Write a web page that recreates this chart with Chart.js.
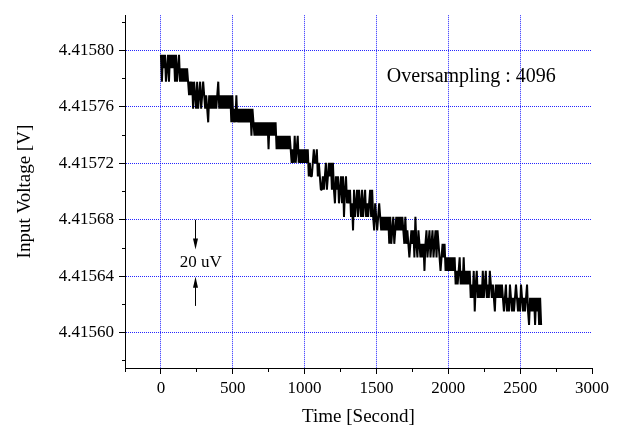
<!DOCTYPE html>
<html>
<head>
<meta charset="utf-8">
<style>
  html, body { margin: 0; padding: 0; background: #fff; }
  #wrap { width: 618px; height: 428px; }
</style>
</head>
<body>
<div id="wrap"><canvas id="chart" width="618" height="428"></canvas></div>
<script src="https://cdn.jsdelivr.net/npm/chart.js@4.4.1/dist/chart.umd.min.js"></script>
<script>
// quantisation levels of the converter output [V]
const levels = [
    4.4157970, 4.4157874, 4.4157779, 4.4157683, 4.4157587, 4.4157491, 4.4157396,
    4.4157300, 4.4157204, 4.4157108, 4.4157013, 4.4156917, 4.4156821, 4.4156725,
    4.4156630, 4.4156534, 4.4156438, 4.4156342, 4.4156247, 4.4156151, 4.4156055
];

// seconds between readings
const sampleStep = 7;

// level index of each reading (one reading per sampleStep)
const readings = [
    0, 2, 0, 1, 0, 2, 1, 0, 2, 0,   1, 0, 1, 0, 2, 0, 2, 1, 0, 2,
    1, 2, 1, 2, 1, 2, 1, 2, 3, 2,   3, 2, 4, 2, 3, 4, 2, 4, 3, 2,
    4, 3, 2, 3, 4, 3, 4, 5, 3, 4,   3, 4, 3, 4, 3, 4, 3, 2, 4, 3,
    4, 3, 4, 3, 4, 3, 4, 3, 4, 3,   5, 3, 5, 4, 5, 3, 5, 4, 5, 4,
    5, 4, 5, 4, 5, 4, 5, 4, 5, 4,   6, 4, 5, 6, 5, 6, 5, 6, 5, 6,
    5, 6, 5, 6, 5, 6, 5, 7, 5, 6,   5, 6, 5, 6, 5, 7, 6, 7, 6, 7,
    6, 7, 6, 7, 6, 7, 6, 7, 6, 7,   8, 7, 8, 6, 8, 7, 6, 8, 7, 8,
    7, 8, 7, 8, 7, 8, 7, 9, 8, 9,   9, 8, 7, 8, 8, 7, 9, 8, 9, 10,
    10, 9, 10, 9, 8, 10, 9, 8, 9, 8,   10, 8, 10, 11, 9, 10, 9, 11, 10, 9,
    11, 9, 12, 10, 9, 11, 10, 11, 10, 12,   11, 13, 10, 12, 11, 10, 12, 10, 11, 12,
    10, 12, 11, 10, 12, 11, 12, 11, 10, 12,   10, 12, 13, 11, 12, 13, 12, 11, 12, 13,
    12, 13, 12, 13, 12, 13, 12, 14, 12, 14,   13, 12, 14, 13, 12, 13, 12, 13, 12, 13,
    12, 13, 14, 12, 14, 13, 14, 15, 14, 13,   14, 13, 15, 12, 14, 15, 13, 14, 15, 14,
    15, 14, 16, 14, 13, 15, 14, 13, 15, 14,   13, 15, 14, 13, 15, 13, 14, 15, 16, 15,
    14, 15, 14, 16, 15, 16, 15, 16, 15, 16,   15, 16, 15, 17, 16, 17, 16, 15, 17, 16,
    17, 15, 17, 16, 17, 16, 17, 16, 18, 17,   18, 16, 19, 17, 16, 18, 17, 18, 17, 18,
    16, 18, 17, 16, 18, 17, 18, 16, 17, 18,   17, 18, 19, 17, 18, 17, 18, 17, 18, 17,
    18, 19, 18, 17, 19, 18, 19, 17, 18, 19,   18, 19, 18, 17, 18, 19, 18, 19, 17, 18,
    19, 18, 19, 18, 17, 19, 20, 18, 19, 18,   19, 18, 20, 18, 19, 18, 20, 18, 20
];

const xMajorTicks = [0, 500, 1000, 1500, 2000, 2500, 3000];
const xMinorTicks = [-250, 250, 750, 1250, 1750, 2250, 2750];
const yMajorTicks = [4.41560, 4.41564, 4.41568, 4.41572, 4.41576, 4.41580];
const yMinorTicks = [4.41558, 4.41562, 4.41566, 4.41570, 4.41574, 4.41578, 4.41582];

const serif = '"Liberation Serif", "Times New Roman", serif';

function tickList(major, minor) {
    return major.map(v => ({ value: v, minor: false }))
        .concat(minor.map(v => ({ value: v, minor: true })))
        .sort((a, b) => a.value - b.value);
}

const points = readings.map((k, i) => ({ x: i * sampleStep, y: levels[k] }));

// text and arrows drawn on top of the data
const notes = {
    id: 'notes',
    afterDatasetsDraw(chart) {
        const { ctx, scales: { x, y } } = chart;
        ctx.save();
        ctx.fillStyle = '#000';
        ctx.strokeStyle = '#000';
        ctx.lineWidth = 1;
        ctx.textAlign = 'center';
        ctx.textBaseline = 'middle';
        ctx.font = '20px ' + serif;
        ctx.fillText('Oversampling : 4096', x.getPixelForValue(2160), y.getPixelForValue(4.4157812));
        ctx.font = '17px ' + serif;
        ctx.fillText('20 uV', x.getPixelForValue(278), y.getPixelForValue(4.4156495));

        const ax = Math.round(x.getPixelForValue(240)) + 0.5;
        const arrow = (from, to) => {
            const y1 = y.getPixelForValue(from);
            const y2 = y.getPixelForValue(to);
            const dir = y2 > y1 ? 1 : -1;
            ctx.beginPath();
            ctx.moveTo(ax, y1);
            ctx.lineTo(ax, y2 - dir * 8);
            ctx.stroke();
            ctx.beginPath();
            ctx.moveTo(ax, y2);
            ctx.lineTo(ax - 2.5, y2 - dir * 11);
            ctx.lineTo(ax + 2.5, y2 - dir * 11);
            ctx.closePath();
            ctx.fill();
        };
        arrow(4.41568, 4.415659);
        arrow(4.415619, 4.4156397);
        ctx.restore();
    }
};

new Chart(document.getElementById('chart'), {
    type: 'line',
    data: {
        datasets: [{
            data: points,
            borderColor: '#000',
            borderWidth: 2,
            borderJoinStyle: 'bevel',
            pointRadius: 0,
            tension: 0,
            fill: false
        }]
    },
    options: {
        responsive: false,
        animation: false,
        devicePixelRatio: 1,
        layout: { padding: { top: 10, right: 26, left: 0, bottom: 0 } },
        plugins: {
            legend: { display: false },
            tooltip: { enabled: false }
        },
        scales: {
            x: {
                type: 'linear',
                min: -250,
                max: 3000,
                afterBuildTicks: s => { s.ticks = tickList(xMajorTicks, xMinorTicks); },
                afterFit: s => { s.height = 60; },
                ticks: {
                    autoSkip: false,
                    maxRotation: 0,
                    padding: 4,
                    color: '#000',
                    font: { family: serif, size: 17 },
                    callback: (v, i, ticks) => ticks[i].minor ? '' : String(v)
                },
                grid: {
                    color: c => (c.tick && !c.tick.minor && c.tick.value < 3000) ? 'rgba(0,0,255,0.85)' : 'rgba(0,0,0,0)',
                    lineWidth: 1,
                    tickLength: 6,
                    tickColor: '#000',
                    tickBorderDash: c => (c.tick && c.tick.minor) ? [3, 100] : []
                },
                border: { display: true, color: '#000', width: 1, dash: [1, 1] },
                title: {
                    display: true,
                    text: 'Time [Second]',
                    color: '#000',
                    font: { family: serif, size: 19 },
                    padding: { top: 0, bottom: 0 }
                }
            },
            y: {
                type: 'linear',
                min: 4.415575,
                max: 4.415825,
                afterBuildTicks: s => { s.ticks = tickList(yMajorTicks, yMinorTicks); },
                afterFit: s => { s.width = 125; },
                ticks: {
                    autoSkip: false,
                    padding: 5,
                    color: '#000',
                    font: { family: serif, size: 17 },
                    callback: (v, i, ticks) => ticks[i].minor ? '' : v.toFixed(5)
                },
                grid: {
                    color: c => (c.tick && !c.tick.minor) ? 'rgba(0,0,255,0.85)' : 'rgba(0,0,0,0)',
                    lineWidth: 1,
                    tickLength: 6,
                    tickColor: '#000',
                    tickBorderDash: c => (c.tick && c.tick.minor) ? [3, 100] : [],
                    tickBorderDashOffset: c => (c.tick && c.tick.minor) ? 100 : 0
                },
                border: { display: true, color: '#000', width: 1, dash: [1, 1] },
                title: {
                    display: true,
                    text: 'Input Voltage [V]',
                    color: '#000',
                    font: { family: serif, size: 19 },
                    padding: { top: 14, bottom: 0 }
                }
            }
        }
    },
    plugins: [notes]
});
</script>
</body>
</html>
